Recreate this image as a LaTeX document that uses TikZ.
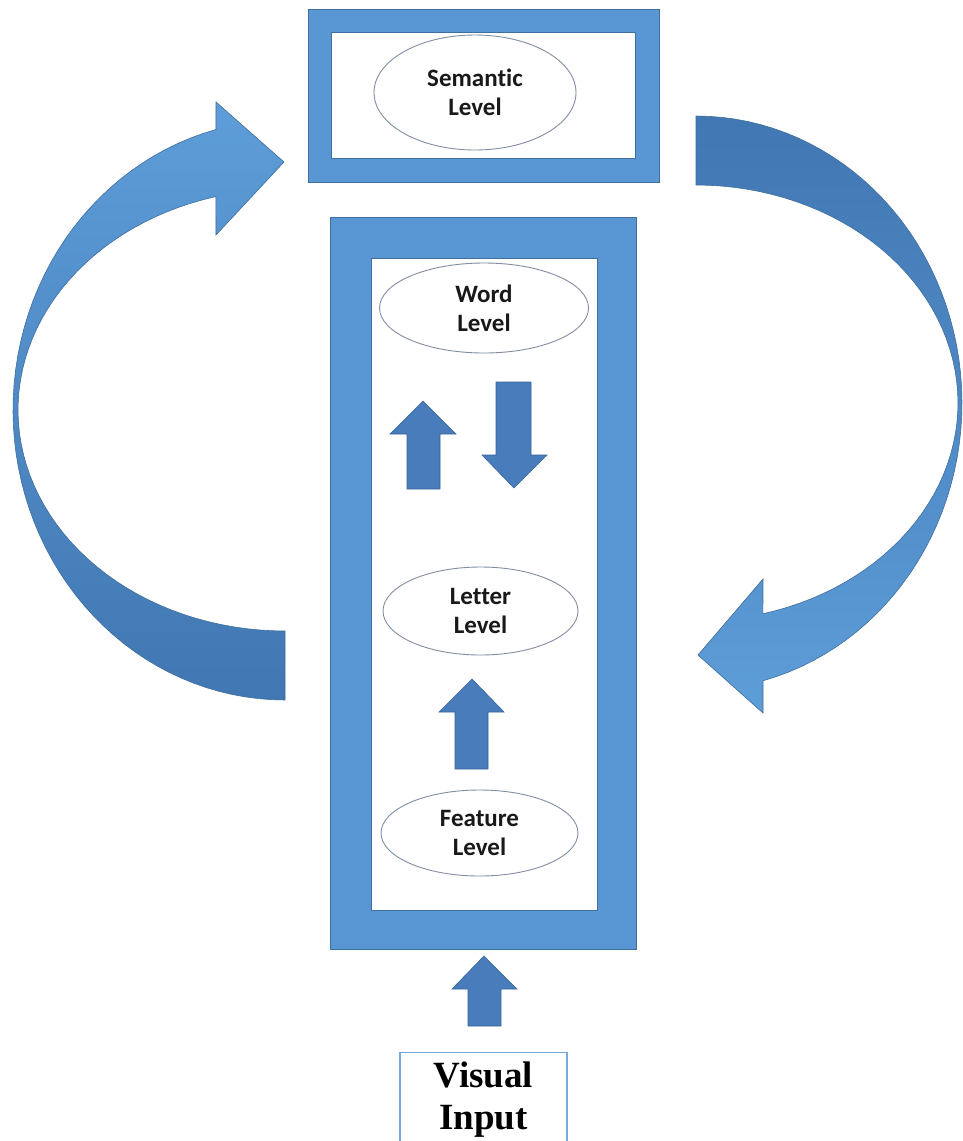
\documentclass[tikz,border=0pt]{standalone}
\usepackage{fontspec}
\setmainfont{Carlito}[Ligatures=NoCommon]
\newfontfamily\inputfont{Liberation Serif}
\usetikzlibrary{positioning, shapes.geometric}

\definecolor{frameblue}{RGB}{88,151,211}
\definecolor{frameedge}{RGB}{64,110,158}
\definecolor{arrowblue}{RGB}{72,124,186}
\definecolor{arrowedge}{RGB}{56,100,155}
\definecolor{lightblue}{RGB}{93,157,216}
\definecolor{darkblue}{RGB}{65,119,178}
\definecolor{ovaledge}{RGB}{130,142,162}
\definecolor{inputedge}{RGB}{118,168,218}

\begin{document}
\begin{tikzpicture}[
			x=1pt, y=-1pt,
			frame/.style={draw=frameedge, fill=frameblue, line width=0.8pt, inner sep=0pt},
			hole/.style={draw=frameedge, fill=white, line width=0.8pt, inner sep=0pt},
			level/.style={ellipse, draw=ovaledge, fill=white, line width=0.9pt, inner sep=0pt,
				align=center, text=black!90, font=\fontsize{25}{29}\selectfont\bfseries},
			inputbox/.style={draw=inputedge, line width=1.2pt, inner sep=0pt, align=center,
				font=\inputfont\fontsize{37}{42}\selectfont\bfseries},
			blockarrow/.style={draw=arrowedge, fill=arrowblue, line width=0.6pt},
			loop/.style={draw=frameedge, line width=0.6pt}
			]
			\fill[white] (0,0) rectangle (962,1141);
			\useasboundingbox (0,0) rectangle (962,1141);
			
			% Semantic box
			\node[frame, minimum width=351, minimum height=173] (sem_frame) at (483.5,95.5) {};
			\node[hole, minimum width=304, minimum height=126] (sem_hole) at (483,95) {};
			\node[level, minimum width=202, minimum height=115] (semantic) at (475,92.5) {Semantic\\Level};
			
			% Word, letter and feature box
			\node[frame, minimum width=306, minimum height=732] (low_frame) at (483,583) {};
			\node[hole, minimum width=226, minimum height=652] (low_hole) at (484,584) {};
			\node[level, minimum width=209, minimum height=90] (word) at (484,308) {Word\\Level};
			\node[level, minimum width=195, minimum height=88] (letter) at (480.5,611) {Letter\\Level};
			\node[level, minimum width=197, minimum height=86] (feature) at (479.5,833) {Feature\\Level};
			
			% Input
			\node[inputbox, minimum width=167, minimum height=94, anchor=north] (input) at (483.5,1052) {Visual\\Input};
			
			% Arrows between levels
			\draw[blockarrow] (407,489) -- (407,434) -- (390,434) -- (423,401) -- (456,434) -- (440,434) -- (440,489) -- cycle;
			\draw[blockarrow] (496,382) -- (531,382) -- (531,455) -- (547,455) -- (514,488) -- (482,455) -- (496,455) -- cycle;
			\draw[blockarrow] (455,769) -- (455,712) -- (439,712) -- (472,679) -- (504,712) -- (488,712) -- (488,769) -- cycle;
			\draw[blockarrow] (468,1026) -- (468,989) -- (452,989) -- (484,956) -- (517,989) -- (501,989) -- (501,1026) -- cycle;
			
			% Left loop (up to semantic)
			\path[loop, top color=lightblue, bottom color=darkblue]
				plot[domain=90:255, samples=60] ({285+267*cos(\x)}, {410+221*sin(\x)})
				-- (216,235) -- (284,162) -- (216,102)
				-- plot[domain=255.3:90, samples=60] ({285+272*cos(\x)}, {410+290*sin(\x)})
				-- cycle;
			
			% Right loop (back down)
			\path[loop, top color=darkblue, bottom color=lightblue]
				plot[domain=270:435.4, samples=60] ({696+266*cos(\x)}, {403+287*sin(\x)})
				-- (763,713) -- (698,655) -- (763,579)
				-- plot[domain=435.2:270, samples=60] ({696+262*cos(\x)}, {403+218*sin(\x)})
				-- cycle;
			
		\end{tikzpicture}
\end{document}
